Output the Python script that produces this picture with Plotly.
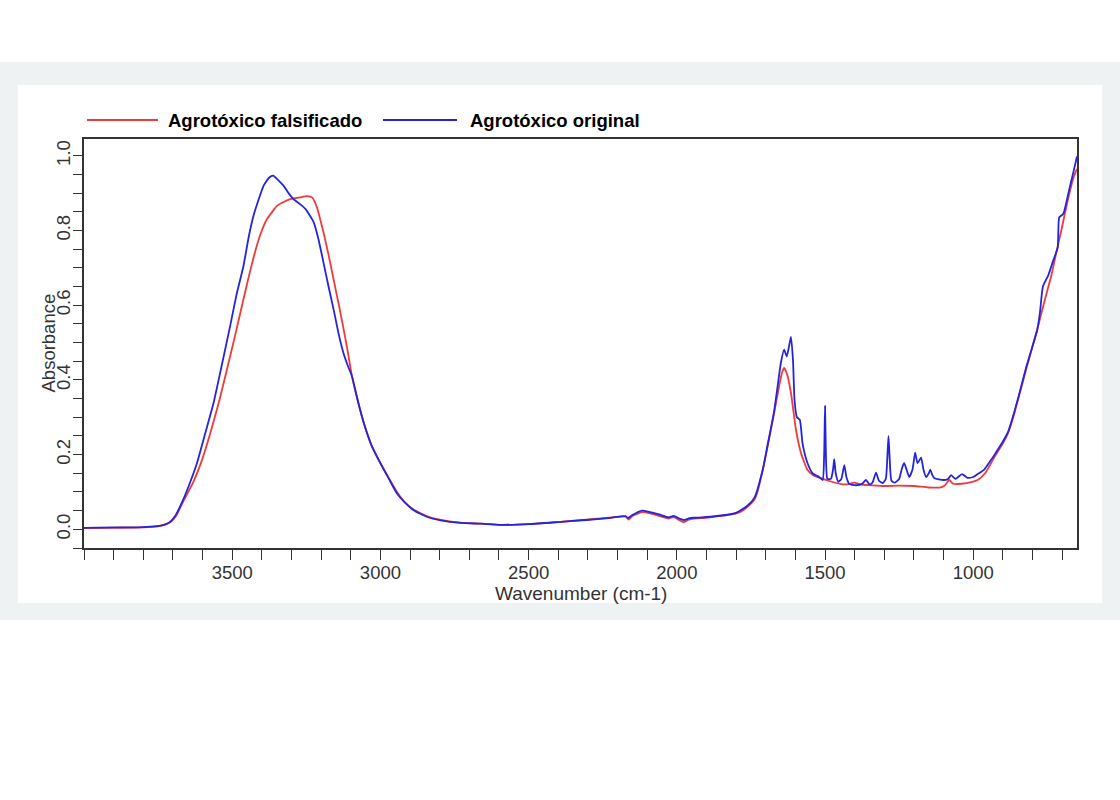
import plotly.graph_objects as go

# FTIR spectra
wn_falsificado = [
    4000, 3900, 3800, 3750, 3710, 3690, 3665, 3631, 3600, 3574,
    3545, 3518, 3490, 3462, 3440, 3417, 3400, 3383, 3365, 3349,
    3325, 3304, 3270, 3248, 3230, 3214, 3200, 3192, 3175, 3158,
    3140, 3124, 3110, 3096, 3075, 3056, 3030, 3000, 2970, 2944,
    2915, 2888, 2842, 2800, 2730, 2662, 2595, 2500, 2392, 2305,
    2230, 2172, 2163, 2150, 2118, 2090, 2060, 2028, 2010, 1995,
    1977, 1960, 1943, 1900, 1872, 1830, 1799, 1784, 1762, 1738,
    1728, 1710, 1694, 1672, 1655, 1645, 1638, 1628, 1615, 1598,
    1581, 1559, 1540, 1514, 1480, 1446, 1420, 1402, 1380, 1345,
    1300, 1250, 1200, 1150, 1110, 1095, 1081, 1068, 1040, 1000,
    985, 960, 928, 900, 883, 865, 849, 821, 800, 784,
    760, 737, 720, 703, 680, 660, 650,
]
abs_falsificado = [
    0.003, 0.004, 0.005, 0.008, 0.018, 0.035, 0.075, 0.127, 0.19, 0.257,
    0.34, 0.427, 0.52, 0.616, 0.69, 0.759, 0.80, 0.83, 0.85, 0.866,
    0.877, 0.884, 0.889, 0.892, 0.888, 0.862, 0.82, 0.795, 0.735, 0.669,
    0.60, 0.535, 0.475, 0.41, 0.34, 0.285, 0.225, 0.177, 0.135, 0.10,
    0.07, 0.053, 0.035, 0.026, 0.018, 0.015, 0.012, 0.014, 0.02, 0.026,
    0.031, 0.034, 0.026, 0.036, 0.046, 0.043, 0.036, 0.029, 0.033, 0.026,
    0.019, 0.026, 0.029, 0.031, 0.034, 0.038, 0.043, 0.047, 0.06, 0.08,
    0.10, 0.16, 0.221, 0.31, 0.383, 0.42, 0.432, 0.415, 0.365, 0.266,
    0.204, 0.159, 0.145, 0.137, 0.128, 0.121, 0.121, 0.125, 0.12, 0.118,
    0.116, 0.117, 0.116, 0.112, 0.112, 0.118, 0.132, 0.122, 0.122, 0.128,
    0.132, 0.15, 0.194, 0.23, 0.257, 0.30, 0.347, 0.43, 0.49, 0.535,
    0.61, 0.678, 0.74, 0.80, 0.885, 0.946, 0.965,
]

wn_original = [
    4000, 3900, 3800, 3732, 3710, 3693, 3665, 3640, 3619, 3590,
    3563, 3535, 3507, 3485, 3462, 3445, 3428, 3410, 3394, 3375,
    3362, 3345, 3327, 3310, 3293, 3270, 3253, 3225, 3210, 3192,
    3175, 3158, 3140, 3124, 3110, 3096, 3075, 3056, 3030, 3000,
    2970, 2944, 2915, 2888, 2842, 2797, 2730, 2662, 2595, 2500,
    2392, 2305, 2230, 2172, 2165, 2150, 2118, 2090, 2060, 2028,
    2010, 1995, 1977, 1960, 1943, 1900, 1872, 1830, 1800, 1762,
    1738, 1710, 1694, 1672, 1660, 1649, 1638, 1629, 1615, 1608,
    1603, 1595, 1585, 1576, 1559, 1542, 1520, 1508, 1503, 1500,
    1497, 1492, 1480, 1473, 1469, 1464, 1455, 1445, 1435, 1428,
    1418, 1395, 1375, 1362, 1350, 1340, 1328, 1318, 1305, 1295,
    1290, 1286, 1282, 1276, 1265, 1250, 1240, 1233, 1225, 1216,
    1205, 1196, 1188, 1176, 1168, 1159, 1150, 1145, 1138, 1131,
    1100, 1085, 1075, 1060, 1038, 1020, 1000, 985, 963, 945,
    928, 900, 883, 865, 849, 821, 800, 784, 775, 765,
    747, 730, 715, 710, 696, 679, 662, 650,
]
abs_original = [
    0.004, 0.005, 0.006, 0.011, 0.02, 0.035, 0.08, 0.13, 0.177, 0.26,
    0.338, 0.44, 0.544, 0.63, 0.705, 0.78, 0.84, 0.885, 0.92, 0.942,
    0.947, 0.935, 0.92, 0.90, 0.884, 0.87, 0.858, 0.822, 0.78, 0.714,
    0.65, 0.589, 0.52, 0.47, 0.438, 0.41, 0.34, 0.284, 0.225, 0.177,
    0.133, 0.096, 0.07, 0.051, 0.033, 0.024, 0.017, 0.015, 0.012, 0.014,
    0.02, 0.025, 0.03, 0.035, 0.03, 0.038, 0.05, 0.046, 0.04, 0.032,
    0.036, 0.03, 0.025, 0.029, 0.031, 0.033, 0.035, 0.039, 0.044, 0.063,
    0.085, 0.16, 0.225, 0.315, 0.383, 0.446, 0.481, 0.463, 0.515, 0.45,
    0.347, 0.30, 0.293, 0.23, 0.177, 0.15, 0.14, 0.132, 0.20, 0.33,
    0.20, 0.135, 0.135, 0.16, 0.188, 0.15, 0.127, 0.135, 0.172, 0.14,
    0.121, 0.118, 0.122, 0.132, 0.12, 0.125, 0.152, 0.13, 0.124, 0.135,
    0.19, 0.25, 0.19, 0.13, 0.125, 0.135, 0.165, 0.177, 0.16, 0.14,
    0.16, 0.205, 0.177, 0.192, 0.16, 0.14, 0.15, 0.16, 0.145, 0.137,
    0.132, 0.135, 0.145, 0.135, 0.148, 0.138, 0.14, 0.148, 0.16, 0.18,
    0.20, 0.235, 0.26, 0.305, 0.35, 0.435, 0.49, 0.535, 0.58, 0.65,
    0.68, 0.72, 0.755, 0.835, 0.845, 0.90, 0.957, 0.998,
]

y_ticks = [0.0, 0.2, 0.4, 0.6, 0.8, 1.0]
x_ticks = [3500, 3000, 2500, 2000, 1500, 1000]

RED = "#f03a3a"
BLUE = "#2424dc"
INK = "#333333"

fig = go.Figure()
fig.add_trace(go.Scatter(x=wn_falsificado, y=abs_falsificado, mode="lines",
                         name="Agrotóxico falsificado",
                         line=dict(color=RED, width=1.8, shape="spline", smoothing=0.5)))
fig.add_trace(go.Scatter(x=wn_original, y=abs_original, mode="lines",
                         name="Agrotóxico original",
                         line=dict(color=BLUE, width=1.8, shape="spline", smoothing=0.5)))

# layout positions below are screen px (body margin removed in post_script)
W, H = 1120, 800
box_l, box_r, box_t, box_b = 84, 1077, 139, 548
L, T, R, B = box_l, box_t, W - box_r, H - box_b
pw, ph = box_r - box_l, box_b - box_t


def px(x):
    return (x - box_l) / pw


def py(y):
    return (box_b - y) / ph


shapes = [
    # light grey band behind the white card
    dict(type="rect", xref="paper", yref="paper", x0=px(-10), x1=px(1130), y0=py(620), y1=py(62),
         fillcolor="#eef2f2", line_width=0, layer="below"),
    dict(type="rect", xref="paper", yref="paper", x0=px(18), x1=px(1102), y0=py(603), y1=py(85),
         fillcolor="white", line_width=0, layer="below"),
    # legend keys
    dict(type="line", xref="paper", yref="paper", x0=px(87), x1=px(158), y0=py(120), y1=py(120),
         line=dict(color=RED, width=1.8)),
    dict(type="line", xref="paper", yref="paper", x0=px(383), x1=px(457), y0=py(120), y1=py(120),
         line=dict(color=BLUE, width=1.8)),
]

annotations = [
    dict(text="<b>Agrotóxico falsificado</b>", xref="paper", yref="paper", x=px(166), y=py(120),
         xanchor="left", yanchor="middle", showarrow=False, font=dict(size=18.5, color="black")),
    dict(text="<b>Agrotóxico original</b>", xref="paper", yref="paper", x=px(468), y=py(120),
         xanchor="left", yanchor="middle", showarrow=False, font=dict(size=18.5, color="black")),
    dict(text="Absorbance", xref="paper", yref="paper", x=px(48), y=0.5, textangle=-90,
         xanchor="center", yanchor="middle", showarrow=False, font=dict(size=18.5, color=INK)),
    dict(text="Wavenumber (cm-1)", xref="paper", yref="paper", x=0.5, y=py(593),
         xanchor="center", yanchor="middle", showarrow=False, font=dict(size=19, color=INK)),
]

fig.update_layout(
    width=W, height=H,
    margin=dict(l=L, r=R, t=T, b=B, autoexpand=False),
    paper_bgcolor="white",
    plot_bgcolor="white",
    font=dict(family="Liberation Sans, Arial, sans-serif", size=18, color=INK),
    showlegend=False,
    shapes=shapes,
    annotations=annotations,
)
fig.update_xaxes(
    range=[4000, 650], tickvals=x_ticks, ticks="outside", ticklen=10, tickwidth=1.3, tickcolor=INK,
    tickfont=dict(size=18.5), ticklabelstandoff=-3,
    minor=dict(dtick=100, tick0=0, ticks="outside", ticklen=10, tickwidth=1.3, tickcolor=INK),
    showline=True, mirror=True, linecolor=INK, linewidth=1.5, showgrid=False, zeroline=False,
)
fig.update_yaxes(
    range=[-0.05, 1.045], tickvals=y_ticks, ticktext=[f"{v:.1f}" for v in y_ticks], tickangle=-90,
    ticks="outside", ticklen=9, tickwidth=1.3, tickcolor=INK, tickfont=dict(size=18.5),
    ticklabelstandoff=-4,
    minor=dict(dtick=0.05, tick0=0, ticks="outside", ticklen=9, tickwidth=1.3, tickcolor=INK),
    showline=True, mirror=True, linecolor=INK, linewidth=1.5, showgrid=False, zeroline=False,
)

fig.write_html("out.html", config={"displayModeBar": False},
               post_script="document.body.style.margin = '0';")
